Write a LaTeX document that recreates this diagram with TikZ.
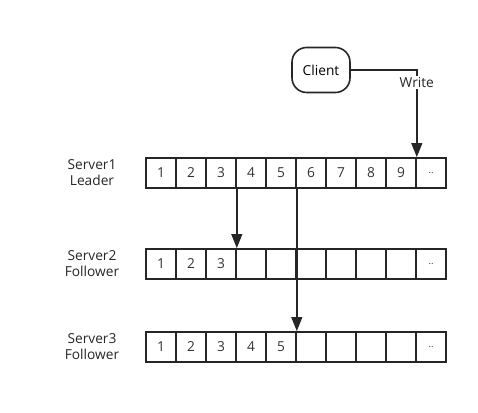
\documentclass[tikz,border=0pt]{standalone}
\usepackage{fontspec}
\setmainfont{Open Sans}
\usetikzlibrary{arrows.meta}
\begin{document}
\begin{tikzpicture}[
    x=0.75pt, y=-0.75pt,
    font=\fontsize{10.3}{12}\selectfont,
    cell_style/.style={draw=black!85, line width=1.2pt, minimum width=22.5pt, minimum height=22.5pt, inner sep=0pt, text=black!80},
    client_style/.style={draw=black!85, line width=1.2pt, rounded corners=11pt, minimum width=43.5pt, minimum height=33.75pt},
    label_style/.style={align=center, text=black!85},
    edge_style/.style={line width=1.4pt, draw=black!85, -{Triangle[length=10.5pt,width=8pt]}}
]
\useasboundingbox (0,0) rectangle (478,413);
% Servers and their logs
\foreach \r/\n/\y/\role in {1/9/173/Leader, 2/3/264/Follower, 3/5/347/Follower} {
    \node[label_style] (srv\r) at (92,\y) {Server\r\\\role};
    \foreach \i in {1,...,9} {
        \ifnum\i>\n \def\txt{}\else \def\txt{\i}\fi
        \node[cell_style] (s\r-\i) at ({131+30*\i},\y) {\txt};
    }
    \node[cell_style, font=\scriptsize] (s\r-10) at (431,\y) {..};
}
% Client
\node[client_style] (client) at (321,70) {Client};
% Replication
\draw[edge_style] (client.east) -| (s1-9.north east)
    node[pos=0.57, fill=white, inner sep=1pt, text=black!85] (write) {Write};
\draw[edge_style] (s1-3.south east) -- (s2-3.north east);
\draw[edge_style] (s1-5.south east) -- (s3-5.north east);
\end{tikzpicture}
\end{document}
